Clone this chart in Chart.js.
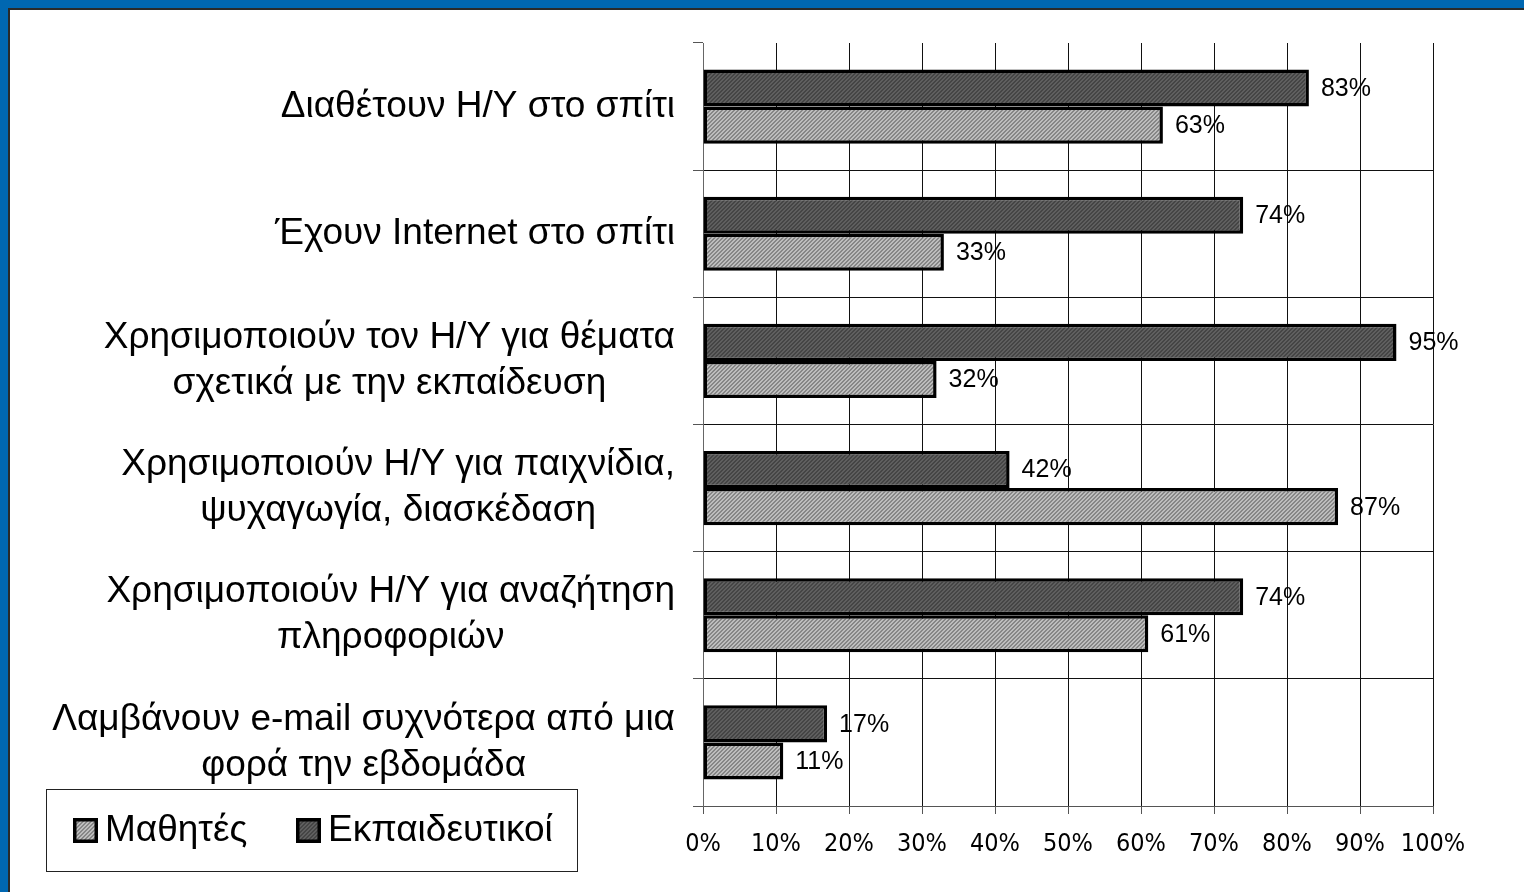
<!DOCTYPE html>
<html>
<head>
<meta charset="utf-8">
<script src="https://cdn.jsdelivr.net/npm/chart.js@4"></script>
<style>
html, body { margin: 0; padding: 0; }
#frame { position: absolute; left: 0; top: 0; width: 1524px; height: 892px; background: #0067b1; }
#inner { position: absolute; left: 8px; top: 8px; right: 0; bottom: 0; background: #fff; border-top: 2px solid #2a2a2a; border-left: 2px solid #2a2a2a; }
#myChart { position: absolute; left: 0; top: 0; }
</style>
</head>
<body>
<div id="frame"><div id="inner"></div></div>
<canvas id="myChart" width="1524" height="892"></canvas>
<script>
// categories (each label split in lines as in the picture)
const categories = [
    ["Διαθέτουν Η/Υ στο σπίτι"],
    ["Έχουν Internet στο σπίτι"],
    ["Χρησιμοποιούν τον Η/Υ για θέματα", "σχετικά με την εκπαίδευση"],
    ["Χρησιμοποιούν Η/Υ για παιχνίδια,", "ψυχαγωγία, διασκέδαση"],
    ["Χρησιμοποιούν Η/Υ για αναζήτηση", "πληροφοριών"],
    ["Λαμβάνουν e-mail συχνότερα από μια", "φορά την εβδομάδα"],
];
const teachers = [83, 74, 95, 42, 74, 17];
const students = [63, 33, 32, 87, 61, 11];
const xTicks = [0, 10, 20, 30, 40, 50, 60, 70, 80, 90, 100];

const FONT = "'Liberation Sans', Arial, sans-serif";

function makePattern(dark, light) {
    var c = document.createElement("canvas");
    c.width = 4;
    c.height = 4;
    var g = c.getContext("2d");
    g.fillStyle = light;
    g.fillRect(0, 0, 4, 4);
    g.fillStyle = dark;
    for (var i = 0; i < 4; i++) {
        g.fillRect(i, (3 - i) % 4, 1, 1);
        g.fillRect(i, (4 - i) % 4, 1, 1);
    }
    return g.createPattern(c, "repeat");
}

const darkFill = makePattern("#454545", "#5f5f5f");
const lightFill = makePattern("#868686", "#bdbdbd");

// y labels: each block right aligned, lines centered inside the block
const yLabels = {
    id: "yLabels",
    afterDraw(chart) {
        var sc = chart.scales.y;
        var ctx = chart.ctx;
        ctx.save();
        ctx.font = "37px " + FONT;
        ctx.fillStyle = "#000";
        ctx.textAlign = "center";
        ctx.textBaseline = "middle";
        categories.forEach(function (lines, i) {
            var yc = sc.getPixelForValue(i);
            var w = Math.max.apply(null, lines.map(function (l) { return ctx.measureText(l).width; }));
            var xc = sc.right - 28 - w / 2;
            lines.forEach(function (l, j) {
                ctx.fillText(l, xc, yc + (j - (lines.length - 1) / 2) * 46);
            });
        });
        ctx.restore();
    },
};

const valueLabels = {
    id: "valueLabels",
    afterDatasetsDraw(chart) {
        var ctx = chart.ctx;
        ctx.save();
        ctx.font = "25px " + FONT;
        ctx.fillStyle = "#000";
        ctx.textAlign = "left";
        ctx.textBaseline = "middle";
        chart.data.datasets.forEach(function (ds, di) {
            chart.getDatasetMeta(di).data.forEach(function (bar, i) {
                ctx.fillText(ds.data[i] + "%", bar.x + 12, bar.y + 1);
            });
        });
        ctx.restore();
    },
};

// boxed legend at bottom left, students first
const boxLegend = {
    id: "boxLegend",
    afterDraw(chart) {
        var ctx = chart.ctx;
        ctx.save();
        ctx.strokeStyle = "#222";
        ctx.lineWidth = 1;
        ctx.strokeRect(46.5, 789.5, 531, 82);
        ctx.font = "37px " + FONT;
        ctx.textBaseline = "middle";
        ctx.fillStyle = "#000";
        var items = chart.data.datasets.slice().reverse();
        var xs = [73, 296];
        items.forEach(function (ds, k) {
            var x = xs[k];
            ctx.fillStyle = ds.backgroundColor;
            ctx.fillRect(x, 818, 25, 25);
            ctx.lineWidth = 3.5;
            ctx.strokeStyle = "#000";
            ctx.strokeRect(x + 1.75, 819.75, 21.5, 21.5);
            ctx.fillStyle = "#000";
            ctx.fillText(ds.label, x + 32, 831);
        });
        ctx.restore();
    },
};

var ctx = document.getElementById("myChart").getContext("2d");
var lienzo = new Chart(ctx, {
    type: "bar",
    data: {
        labels: categories,
        datasets: [
            {
                label: "Εκπαιδευτικοί",
                data: teachers,
                backgroundColor: darkFill,
                borderColor: "#000",
                borderWidth: 3.5,
                borderSkipped: false,
            },
            {
                label: "Μαθητές",
                data: students,
                backgroundColor: lightFill,
                borderColor: "#000",
                borderWidth: 3.5,
                borderSkipped: false,
            },
        ],
    },
    options: {
        indexAxis: "y",
        responsive: false,
        animation: false,
        devicePixelRatio: 1,
        categoryPercentage: 0.583,
        barPercentage: 1,
        layout: { padding: { left: 0, right: 91, top: 43, bottom: 0 } },
        plugins: {
            legend: { display: false },
            tooltip: { enabled: false },
        },
        scales: {
            x: {
                min: 0,
                max: 100,
                afterBuildTicks: function (scale) {
                    scale.ticks = xTicks.map(function (v) { return { value: v }; });
                },
                afterFit: function (scale) {
                    scale.height = 86;
                },
                ticks: {
                    callback: function (v) { return v + "%"; },
                    font: { family: "'Liberation Sans Narrow', 'DejaVu Sans Condensed', sans-serif", size: 25 },
                    color: "#000",
                    padding: 15,
                    maxRotation: 0,
                },
                grid: { color: "#111", lineWidth: 1, tickLength: 8, tickColor: "#555" },
                border: { color: "#555", width: 1 },
            },
            y: {
                afterFit: function (scale) {
                    scale.width = 703;
                },
                ticks: { display: false },
                grid: {
                    color: function (c) { return c.index === 0 ? "rgba(0,0,0,0)" : "#111"; },
                    tickColor: "#555",
                    tickLength: 10,
                    lineWidth: 1,
                },
                border: { color: "#666", width: 1 },
            },
        },
    },
    plugins: [yLabels, valueLabels, boxLegend],
});
</script>
</body>
</html>
